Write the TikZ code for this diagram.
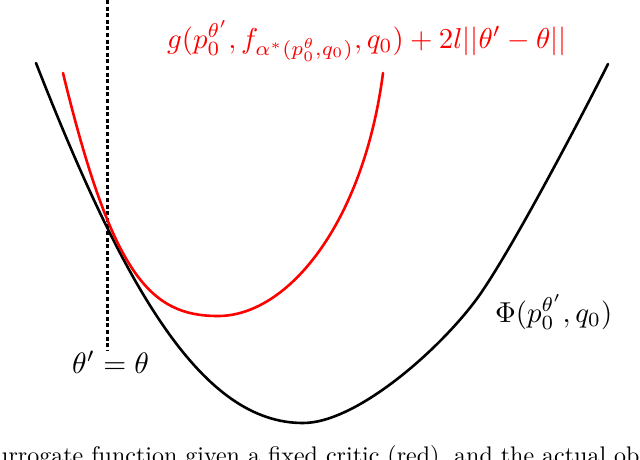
\documentclass[tikz,border=0pt]{standalone}
\usepackage{amsmath}
\begin{document}
\begin{tikzpicture}[x=1pt,y=-1pt,
  curve/.style={line width=2.6pt, line join=round, line cap=round},
  lbl/.style={inner sep=0pt, anchor=base west, font=\normalsize},
  captext/.style={inner sep=0pt, anchor=base west, font=\normalsize}]
\useasboundingbox (0,0) rectangle (640,459);
\begin{scope}
\clip (0,0) rectangle (640,459);
% dotted vertical line
\coordinate (dtop) at (107,0);
\coordinate (dbot) at (107,350);
\draw[line width=3pt, dash pattern=on 4pt off 2.6pt] (dtop) -- (dbot);
% black curve Phi
\coordinate (b0) at (36,63);
\coordinate (bmin) at (303,423);
\coordinate (b1) at (483,290);
\coordinate (b2) at (608,64);
\draw[curve, black] (b0) .. controls (126,293) and (203,423) .. (bmin)
  .. controls (360,423) and (450,340) .. (b1)
  .. controls (520,235) and (590,100) .. (b2);
% red surrogate curve
\coordinate (r0) at (63,73);
\coordinate (rmin) at (218,316);
\coordinate (r2) at (383,73);
\draw[curve, red] (r0) .. controls (112,275) and (150,316) .. (rmin)
  .. controls (288,316) and (363.5,223) .. (r2);
% labels
\node[lbl, red] (glab) at (167,48) {\scalebox{2.88}{$g(p_0^{\theta'}, f_{\alpha^*(p_0^{\theta},q_0)}, q_0) + 2l||\theta'-\theta||$}};
\node[lbl] (philab) at (495,322) {\scalebox{2.88}{$\Phi(p_0^{\theta'}, q_0)$}};
\node[lbl] (thlab) at (72,373) {\scalebox{2.95}{$\theta' = \theta$}};
\node[captext] (caption) at (-5,463) {\scalebox{2.4}{urrogate function given a fixed critic (red), and the actual ob}};
\end{scope}
\end{tikzpicture}
\end{document}
